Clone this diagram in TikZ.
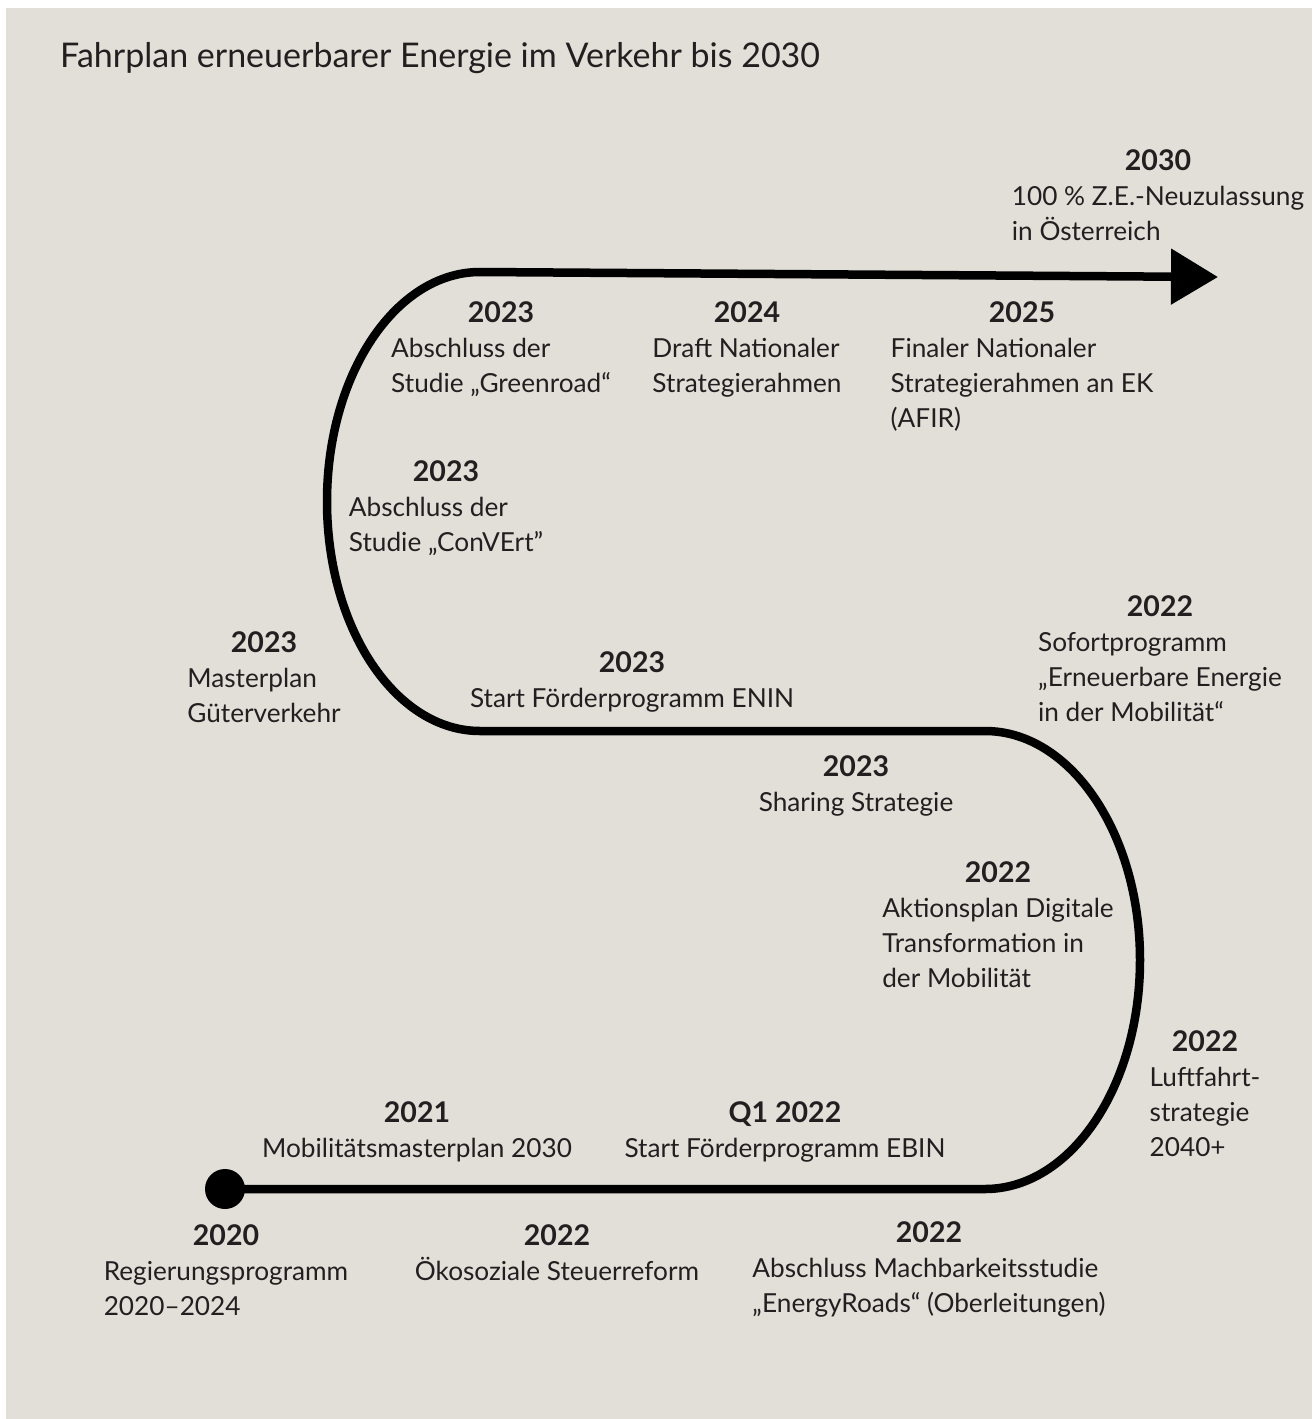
\documentclass[tikz,border=0pt]{standalone}
\usepackage{fontspec}
\setmainfont{Lato}
\usetikzlibrary{arrows.meta}
\definecolor{paper}{HTML}{E2DED8}
\definecolor{ink}{HTML}{231F20}
\newcommand{\yr}[1]{\multicolumn{1}{@{}c@{}}{\fontsize{28.5}{35}\selectfont\bfseries #1}}

\begin{document}
\begin{tikzpicture}[x=1pt,y=-1pt,>={Triangle[length=47pt,width=54pt]},
  road/.style={line width=8.5pt,black},
  ms/.style={anchor=base,inner sep=0pt,text=ink,font=\fontsize{26.2}{35}\selectfont}]

\useasboundingbox (0,0) rectangle (1312,1419);
\fill [white] (0,0) rectangle (1312,1419);
\fill [paper] (6,8) rectangle (1312,1419);

\node (title) [anchor=base west,inner sep=0pt,text=ink,font=\fontsize{34}{40}\selectfont]
  at (60,67) {Fahrplan erneuerbarer Energie im Verkehr bis 2030};

%%%%%%%%%%%%%%%%%%%%%%%%%%%%%%%%%%%%%%

\coordinate (start) at (225,1189);
\coordinate (tip) at (1218,277);
\draw [road,->] (start) -- (985,1189)
  arc [start angle=90,end angle=-90,x radius=155,y radius=229] -- (480,731)
  arc [start angle=90,end angle=270,x radius=153,y radius=229.5] -- (tip);
\fill (start) circle (20);

%%%%%%%%%%%%%%%%%%%%%%%%%%%%%%%%%%%%%%

\node (z2030) [ms] at (1158,170) {\begin{tabular}[t]{@{}l@{}}\yr{2030}\\100 \% Z.E.-Neuzulassung\\in Österreich\end{tabular}};

\node (greenroad) [ms] at (501,322) {\begin{tabular}[t]{@{}l@{}}\yr{2023}\\Abschluss der\\Studie „Greenroad“\end{tabular}};
\node (draft) [ms] at (747,322) {\begin{tabular}[t]{@{}l@{}}\yr{2024}\\Draft Nationaler\\Strategierahmen\end{tabular}};
\node (afir) [ms] at (1022,322) {\begin{tabular}[t]{@{}l@{}}\yr{2025}\\Finaler Nationaler\\Strategierahmen an EK\\(AFIR)\end{tabular}};

\node (convert) [ms] at (446,481) {\begin{tabular}[t]{@{}l@{}}\yr{2023}\\Abschluss der\\Studie „ConVErt”\end{tabular}};

\node (masterplan) [ms] at (264,652) {\begin{tabular}[t]{@{}l@{}}\yr{2023}\\Masterplan\\Güterverkehr\end{tabular}};
\node (enin) [ms] at (632,672) {\begin{tabular}[t]{@{}l@{}}\yr{2023}\\Start Förderprogramm ENIN\end{tabular}};
\node (sofort) [ms] at (1160,616) {\begin{tabular}[t]{@{}l@{}}\yr{2022}\\Sofortprogramm\\„Erneuerbare Energie\\in der Mobilität“\end{tabular}};

%%%%%%%%%%%%%%%%%%%%%%%%%%%%%%%%%%%%%%

\node (sharing) [ms] at (856,776) {\begin{tabular}[t]{@{}l@{}}\yr{2023}\\Sharing Strategie\end{tabular}};
\node (aktion) [ms] at (998,882) {\begin{tabular}[t]{@{}l@{}}\yr{2022}\\Aktionsplan Digitale\\Transformation in\\der Mobilität\end{tabular}};
\node (luftfahrt) [ms] at (1205,1051) {\begin{tabular}[t]{@{}l@{}}\yr{2022}\\Luftfahrt-\\strategie\\2040+\end{tabular}};

\node (mmp) [ms] at (417,1122) {\begin{tabular}[t]{@{}l@{}}\yr{2021}\\Mobilitätsmasterplan 2030\end{tabular}};
\node (ebin) [ms] at (785,1122) {\begin{tabular}[t]{@{}l@{}}\yr{Q1 2022}\\Start Förderprogramm EBIN\end{tabular}};

\node (regierung) [ms] at (226,1245) {\begin{tabular}[t]{@{}l@{}}\yr{2020}\\Regierungsprogramm\\2020–2024\end{tabular}};
\node (steuer) [ms] at (557,1245) {\begin{tabular}[t]{@{}l@{}}\yr{2022}\\Ökosoziale Steuerreform\end{tabular}};
\node (energyroads) [ms] at (929,1242) {\begin{tabular}[t]{@{}l@{}}\yr{2022}\\Abschluss Machbarkeitsstudie\\„EnergyRoads“ (Oberleitungen)\end{tabular}};

\end{tikzpicture}
\end{document}
